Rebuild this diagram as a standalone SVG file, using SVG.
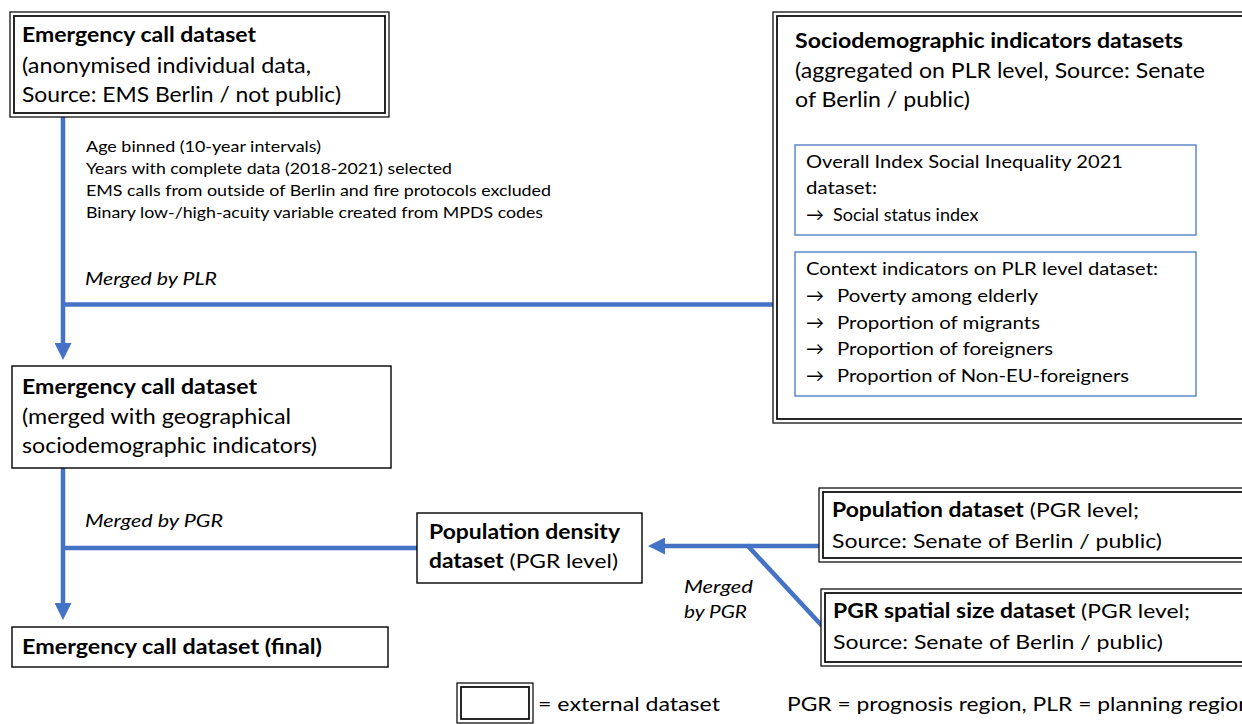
<svg xmlns="http://www.w3.org/2000/svg" width="1242" height="724" viewBox="0 0 1242 724">
<style>
  text { font-family: Lato, "Liberation Sans", "DejaVu Sans", sans-serif; fill: #000; }
  .b { font-weight: 700; }
  .i { font-style: italic; }
  .t21 { font-size: 21px; }
  .t20 { font-size: 20px; }
  .t18 { font-size: 18px; }
  .t16 { font-size: 16px; }
  .box { fill: #fff; stroke: #000; stroke-width: 1.4; }
  .dbo { fill: #fff; stroke: #111; stroke-width: 1.3; }
  .dbi { fill: none; stroke: #111; stroke-width: 1.8; }
  .sub { fill: #fff; stroke: #5580C8; stroke-width: 1.4; }
  .con { stroke: #4472C4; stroke-width: 4.5; fill: none; }
</style>
<defs>
  <marker id="ah" markerUnits="userSpaceOnUse" markerWidth="17" markerHeight="17" viewBox="0 0 17 17" refX="7" refY="8.5" orient="auto">
    <path d="M0,0 L17,8.5 L0,17 z" fill="#4472C4"/>
  </marker>
</defs>
<rect x="0" y="0" width="1242" height="724" fill="#fff"/>

<g id="connectors">
  <line class="con" x1="63" y1="117" x2="63" y2="350" marker-end="url(#ah)"/>
  <line class="con" x1="61" y1="304.5" x2="775" y2="304.5"/>
  <line class="con" x1="63" y1="468" x2="63" y2="610" marker-end="url(#ah)"/>
  <line class="con" x1="61" y1="548" x2="418" y2="548"/>
  <line class="con" x1="820" y1="546" x2="658" y2="546" marker-end="url(#ah)"/>
  <line class="con" x1="747" y1="545" x2="824" y2="628"/>
  <g id="label-processing" class="t16">
    <text x="86" y="152" textLength="235" lengthAdjust="spacingAndGlyphs">Age binned (10-year intervals)</text>
    <text x="86" y="174" textLength="366" lengthAdjust="spacingAndGlyphs">Years with complete data (2018-2021) selected</text>
    <text x="86" y="196" textLength="465" lengthAdjust="spacingAndGlyphs">EMS calls from outside of Berlin and fire protocols excluded</text>
    <text x="86" y="218" textLength="457" lengthAdjust="spacingAndGlyphs">Binary low-/high-acuity variable created from MPDS codes</text>
  </g>
  <text class="i t18" x="85" y="285" textLength="132" lengthAdjust="spacingAndGlyphs">Merged by PLR</text>
  <text class="i t18" x="85" y="527" textLength="138" lengthAdjust="spacingAndGlyphs">Merged by PGR</text>
  <text class="i t18" x="684" y="593" textLength="69" lengthAdjust="spacingAndGlyphs">Merged</text>
  <text class="i t18" x="684" y="618" textLength="63" lengthAdjust="spacingAndGlyphs">by PGR</text>
</g>

<g id="node-ems-raw">
  <rect class="dbo" x="10" y="12" width="379" height="105"/>
  <rect class="dbi" x="14" y="16" width="371" height="97"/>
  <text class="b t21" x="22" y="42" textLength="234" lengthAdjust="spacingAndGlyphs">Emergency call dataset</text>
  <text class="t21" x="22" y="73" textLength="289" lengthAdjust="spacingAndGlyphs">(anonymised individual data,</text>
  <text class="t21" x="22" y="102" textLength="319" lengthAdjust="spacingAndGlyphs">Source: EMS Berlin / not public)</text>
</g>

<g id="node-sociodemographic">
  <rect class="dbo" x="773" y="12" width="500" height="411"/>
  <rect class="dbi" x="777" y="16" width="492" height="403"/>
  <text class="b t21" x="795" y="48" textLength="388" lengthAdjust="spacingAndGlyphs">Sociodemographic indicators datasets</text>
  <text class="t21" x="795" y="78" textLength="410" lengthAdjust="spacingAndGlyphs">(aggregated on PLR level, Source: Senate</text>
  <text class="t21" x="795" y="107" textLength="175" lengthAdjust="spacingAndGlyphs">of Berlin / public)</text>
  <g id="node-social-index">
    <rect class="sub" x="795" y="145" width="401" height="90"/>
    <text class="t18" x="806" y="168" textLength="317" lengthAdjust="spacingAndGlyphs">Overall Index Social Inequality 2021</text>
    <text class="t18" x="806" y="194" textLength="71" lengthAdjust="spacingAndGlyphs">dataset:</text>
    <text class="t18" x="806" y="221">→ <tspan x="833">Social status index</tspan></text>
  </g>
  <g id="node-context-indicators">
    <rect class="sub" x="795" y="252" width="401" height="144"/>
    <text class="t18" x="806" y="275" textLength="352" lengthAdjust="spacingAndGlyphs">Context indicators on PLR level dataset:</text>
    <text class="t18" x="806" y="302">→</text>
    <text class="t18" x="837" y="302" textLength="201" lengthAdjust="spacingAndGlyphs">Poverty among elderly</text>
    <text class="t18" x="806" y="329">→</text>
    <text class="t18" x="837" y="329" textLength="203" lengthAdjust="spacingAndGlyphs">Proportion of migrants</text>
    <text class="t18" x="806" y="355">→</text>
    <text class="t18" x="837" y="355" textLength="216" lengthAdjust="spacingAndGlyphs">Proportion of foreigners</text>
    <text class="t18" x="806" y="382">→</text>
    <text class="t18" x="837" y="382" textLength="292" lengthAdjust="spacingAndGlyphs">Proportion of Non-EU-foreigners</text>
  </g>
</g>

<g id="node-ems-merged">
  <rect class="box" x="12" y="366" width="379" height="102"/>
  <text class="b t21" x="22" y="394" textLength="235" lengthAdjust="spacingAndGlyphs">Emergency call dataset</text>
  <text class="t21" x="22" y="424" textLength="269" lengthAdjust="spacingAndGlyphs">(merged with geographical</text>
  <text class="t21" x="22" y="453" textLength="295" lengthAdjust="spacingAndGlyphs">sociodemographic indicators)</text>
</g>

<g id="node-ems-final">
  <rect class="box" x="12" y="627" width="376" height="40"/>
  <text class="b t21" x="22" y="654" textLength="300" lengthAdjust="spacingAndGlyphs">Emergency call dataset (final)</text>
</g>

<g id="node-population-density">
  <rect class="box" x="417" y="513" width="225" height="70"/>
  <text class="b t20" x="429" y="539" textLength="191" lengthAdjust="spacingAndGlyphs">Population density</text>
  <text class="t20" x="429" y="568" textLength="189" lengthAdjust="spacingAndGlyphs"><tspan class="b">dataset</tspan> (PGR level)</text>
</g>

<g id="node-population">
  <rect class="dbo" x="819" y="488" width="440" height="74"/>
  <rect class="dbi" x="823" y="492" width="432" height="66"/>
  <text class="t20" x="832" y="517" textLength="307" lengthAdjust="spacingAndGlyphs"><tspan class="b">Population dataset</tspan> (PGR level;</text>
  <text class="t20" x="832" y="548" textLength="330" lengthAdjust="spacingAndGlyphs">Source: Senate of Berlin / public)</text>
</g>

<g id="node-pgr-size">
  <rect class="dbo" x="821" y="589" width="440" height="77"/>
  <rect class="dbi" x="825" y="593" width="432" height="69"/>
  <text class="t20" x="833" y="618" textLength="357" lengthAdjust="spacingAndGlyphs"><tspan class="b">PGR spatial size dataset</tspan> (PGR level;</text>
  <text class="t20" x="833" y="649" textLength="330" lengthAdjust="spacingAndGlyphs">Source: Senate of Berlin / public)</text>
</g>

<g id="legend">
  <rect class="dbo" x="457" y="683" width="76" height="40"/>
  <rect class="dbi" x="461" y="687" width="68" height="32"/>
  <text class="t20" x="538" y="711" textLength="182" lengthAdjust="spacingAndGlyphs">= external dataset</text>
  <text class="t20" x="787" y="711" textLength="464" lengthAdjust="spacingAndGlyphs">PGR = prognosis region, PLR = planning region</text>
</g>
</svg>
